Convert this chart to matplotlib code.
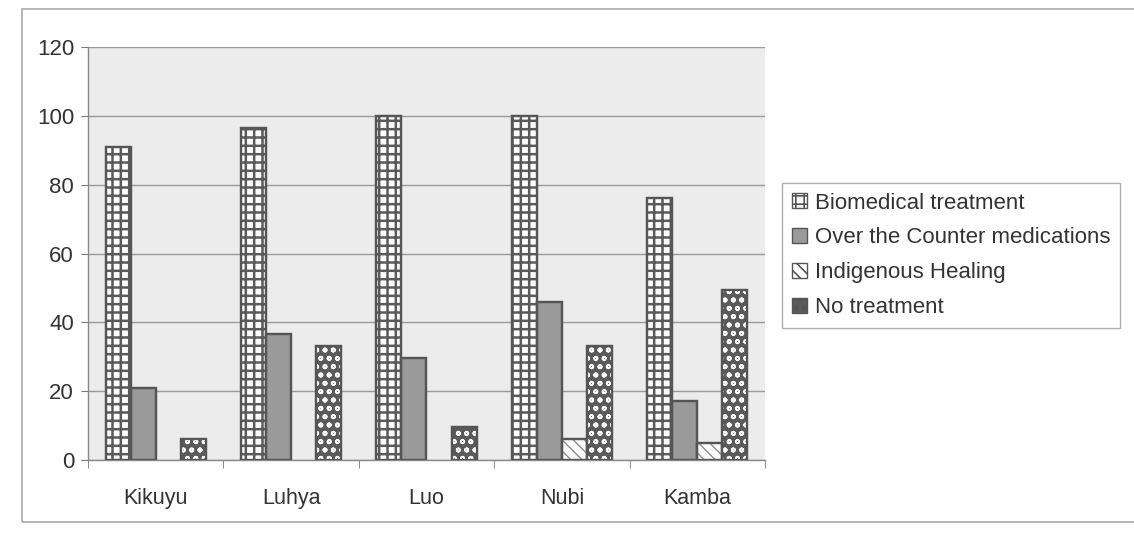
import matplotlib
matplotlib.use("Agg")
import matplotlib.pyplot as plt
import numpy as np
from matplotlib.patches import Rectangle, Patch

plt.rcParams["font.family"] = ["Liberation Sans", "DejaVu Sans"]

# ---- data ----------------------------------------------------------------
GROUPS = ["Kikuyu", "Luhya", "Luo", "Nubi", "Kamba"]
SERIES = ["Biomedical treatment", "Over the Counter medications",
          "Indigenous Healing", "No treatment"]
biomedical = [91, 96.5, 100, 100, 76]
otc = [21, 36.5, 29.5, 46, 17]
indigenous = [0, 0, 0, 6, 5]
no_treatment = [6, 33, 9.5, 33, 49.5]
Y_TICKS = [0, 20, 40, 60, 80, 100, 120]

# ---- styles --------------------------------------------------------------
EDGE = "#555555"
TXT = "#333333"
# face colour, hatch pattern, hatch colour, hatch line width
STYLES = [
    ("white", "++", "#5a5a5a", 1.8),      # bricks
    ("#9a9a9a", None, None, 0),           # solid grey
    ("white", "\\\\\\", "#8a8a8a", 1.0),  # zigzag-ish
    ("#5a5a5a", "oo", "white", 1.2),      # white dots on dark
]

fig = plt.figure(figsize=(11.34, 5.37), dpi=100, facecolor="white")
ax = fig.add_axes([0.0776, 0.1434, 0.597, 0.769])
ax.set_facecolor("#ececec")

values = [biomedical, otc, indigenous, no_treatment]
x = np.arange(len(GROUPS))
W = 0.185
for k, (vals, (face, hatch, hcol, hlw)) in enumerate(zip(values, STYLES)):
    pos = x + (k - 1.5) * W
    ax.bar(pos, vals, W, color=face, edgecolor=EDGE, lw=1.6, zorder=3)
    if hatch:
        plt.rcParams["hatch.linewidth"] = hlw
        ax.bar(pos, vals, W, color="none", edgecolor=hcol, lw=0,
               hatch=hatch, zorder=4)
    # outline on top of hatch
    ax.bar(pos, vals, W, color="none", edgecolor=EDGE, lw=1.6, zorder=5)
# zero-height bars are not drawn at all
for p in ax.patches:
    if p.get_height() == 0:
        p.set_linewidth(0)
        p.set_hatch(None)

ax.set_xlim(-0.5, len(GROUPS) - 0.5)
ax.set_ylim(0, 120)
ax.set_yticks(Y_TICKS)
ax.set_yticklabels([str(v) for v in Y_TICKS], fontsize=16, color=TXT)
ax.set_xticks(x)
ax.set_xticklabels(GROUPS, fontsize=15.5, color=TXT)
ax.tick_params(axis="x", length=0, pad=20)
ax.tick_params(axis="y", length=5, color="#777777", pad=5)
# category boundary ticks
ax.set_xticks(np.arange(-0.5, len(GROUPS)), minor=True)
ax.tick_params(axis="x", which="minor", length=6, color="#777777")
ax.yaxis.grid(True, color="#9a9a9a", lw=1.0, zorder=0)
ax.set_axisbelow(True)
for s in ["top", "right"]:
    ax.spines[s].set_visible(False)
for s in ["left", "bottom"]:
    ax.spines[s].set_color("#888888")
    ax.spines[s].set_linewidth(1.0)

# legend proxies carrying the hatch look
proxies = [Patch(facecolor=face, edgecolor=EDGE, hatch=hatch, lw=1.0)
           for face, hatch, hcol, hlw in STYLES]
leg = fig.legend(handles=proxies, labels=SERIES, loc="upper left",
                 bbox_to_anchor=(0.690, 0.660), fontsize=16,
                 frameon=True, fancybox=False, edgecolor="#999999",
                 handlelength=0.65, handleheight=0.65, handletextpad=0.35,
                 labelspacing=0.62, borderpad=0.45, borderaxespad=0,
                 labelcolor=TXT)
leg.get_frame().set_linewidth(1.0)

# outer chart frame (right edge cut off by the page)
fig.patches.append(Rectangle((0.019, 0.028), 1.0, 0.955,
                             transform=fig.transFigure, fill=False,
                             edgecolor="#aaaaaa", lw=1.2))

fig.savefig("out.png", dpi=100)
